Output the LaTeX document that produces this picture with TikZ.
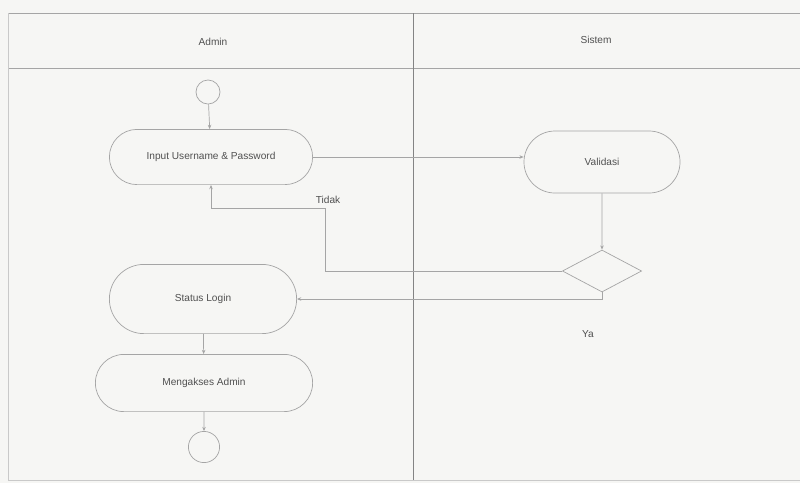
\documentclass[tikz,border=0pt]{standalone}
\usepackage{fontspec}
\setmainfont{Liberation Sans}
\usetikzlibrary{shapes.geometric,shapes.misc,arrows.meta}
\definecolor{paper}{RGB}{246,246,244}
\definecolor{ink}{RGB}{165,165,165}
\definecolor{txt}{RGB}{80,80,80}
\begin{document}
\begin{tikzpicture}[x=0.025cm, y=-0.025cm,
    font=\fontsize{7.2}{9}\selectfont, text=txt,
    lane/.style={draw=ink, line width=0.6pt},
    act/.style={draw=ink, line width=0.5pt, rounded rectangle, inner sep=0pt},
    terminal/.style={draw=ink, line width=0.5pt, circle, inner sep=0pt, minimum size=#1},
    decision/.style={draw=ink, line width=0.5pt, diamond, inner sep=0pt, minimum width=1.98cm, minimum height=1.05cm},
    flow/.style={draw=ink, line width=0.5pt, -{Stealth[length=3pt,width=2.5pt]}}]

    % Background and swimlanes
    \fill[paper] (0,0) rectangle (800,483);
    \useasboundingbox (0,0) rectangle (800,483);
    \draw[lane] (8,13) -- (800,13);
    \draw[lane] (8,68) -- (800,68);
    \draw[lane, draw=ink!60] (8,13) -- (8,480) -- (800,480);
    \draw[lane, draw=ink!80!black] (413,13) -- (413,480);
    \node (admin) at (213,42) {Admin};
    \node (sistem) at (596,40) {Sistem};

    % Activities
    \node[terminal=0.6cm] (start) at (208,92) {};
    \node[act, minimum width=5.08cm, minimum height=1.38cm] (input) at (211,157) {Input Username \& Password};
    \node[act, minimum width=3.9cm, minimum height=1.55cm] (validasi) at (602,162) {Validasi};
    \node[decision] (cek) at (602,271) {};
    \node[act, minimum width=4.68cm, minimum height=1.73cm] (status) at (203,299) {Status Login};
    \node[act, minimum width=5.43cm, minimum height=1.43cm] (akses) at (204,383) {Mengakses Admin};
    \node[terminal=0.78cm] (finish) at (204,447) {};

    % Connectors
    \coordinate (tidakturn) at (325,208);
    \draw[flow] (start) -- (input);
    \draw[flow] (input.east) -- (input.east -| validasi.west);
    \draw[flow] (validasi) -- (cek);
    \draw[flow] (cek.west) -| (tidakturn) -| (input.south);
    \draw[flow] (cek.south) |- (status.east);
    \draw[flow] (status) -- (akses);
    \draw[flow] (akses) -- (finish);

    \node (tidak) at (328,200) {Tidak};
    \node (ya) at (588,334) {Ya};
\end{tikzpicture}
\end{document}
